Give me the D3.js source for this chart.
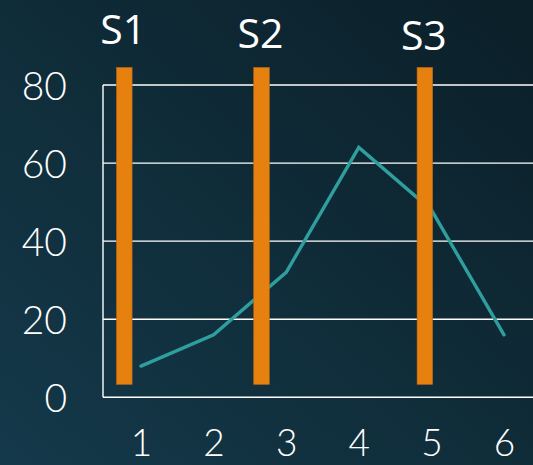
<!DOCTYPE html>
<html>
<head>
<meta charset="utf-8">
<script src="https://cdn.jsdelivr.net/npm/d3@7"></script>
<style>
  html, body { margin: 0; padding: 0; background: #0f2a35; }
  svg { display: block; }
</style>
</head>
<body>
<script>
// Series: one line over six steps, plus three marker bands S1–S3
const steps = [1, 2, 3, 4, 5, 6];
const values = [8, 16, 32, 64, 48, 16];
const yTicks = [0, 20, 40, 60, 80];
const markerNames = ["S1", "S2", "S3"];
const markerPositions = [0.77, 2.66, 4.91];
const markerRange = [3.3, 84.5];

const W = 533, H = 465;
const svg = d3.select("body").append("svg").attr("width", W).attr("height", H);

// diagonal background gradient
const defs = svg.append("defs");
const grad = defs.append("linearGradient").attr("id", "bg")
  .attr("x1", "0%").attr("y1", "100%").attr("x2", "100%").attr("y2", "0%");
grad.append("stop").attr("offset", "0%").attr("stop-color", "#14394a");
grad.append("stop").attr("offset", "100%").attr("stop-color", "#0b1f28");
svg.append("rect").attr("width", W).attr("height", H).attr("fill", "url(#bg)");

const plotLeft = 103, plotTop = 85, plotBottom = 397.3;
const x = d3.scaleLinear().domain([0.5, 6.5]).range([104.7, 540.3]);
const y = d3.scaleLinear().domain([0, 80]).range([plotBottom, plotTop]);

const numFont = "Lato, 'Open Sans', sans-serif";

// horizontal gridlines (top one and baseline close the frame)
svg.append("g").selectAll("line").data(yTicks).join("line")
  .attr("x1", plotLeft).attr("x2", W + 5)
  .attr("y1", d => y(d)).attr("y2", d => y(d))
  .attr("stroke", "#ffffff").attr("stroke-width", 1.4);
svg.append("line")
  .attr("x1", plotLeft).attr("x2", plotLeft)
  .attr("y1", y(80)).attr("y2", y(0))
  .attr("stroke", "#ffffff").attr("stroke-width", 1.4);

// y axis labels
const yAxis = d3.axisLeft(y).tickValues(yTicks).tickFormat(d3.format("d"))
  .tickSize(0).tickPadding(0);
const gy = svg.append("g").attr("transform", "translate(67,0)").call(yAxis);
gy.select(".domain").remove();
gy.selectAll("text")
  .attr("fill", "#ffffff").attr("font-family", numFont).attr("font-weight", 300)
  .attr("font-size", 39).attr("dy", "0.36em");

// x axis labels (baseline placed directly)
const xAxis = d3.axisBottom(x).tickValues(steps).tickFormat(d3.format("d"))
  .tickSize(0).tickPadding(0);
const gx = svg.append("g").attr("transform", "translate(0,456)").call(xAxis);
gx.select(".domain").remove();
gx.selectAll("text")
  .attr("y", 0).attr("dy", 0)
  .attr("fill", "#ffffff").attr("font-family", numFont).attr("font-weight", 300)
  .attr("font-size", 37);

// data line
const line = d3.line().x((d, i) => x(steps[i])).y(d => y(d));
svg.append("path").datum(values)
  .attr("d", line)
  .attr("fill", "none").attr("stroke", "#2f9e9f").attr("stroke-width", 3.4)
  .attr("stroke-linecap", "round").attr("stroke-linejoin", "miter");

// marker bars
const barW = 15.6;
svg.append("g").selectAll("rect").data(markerPositions).join("rect")
  .attr("x", d => x(d) - barW / 2).attr("width", barW)
  .attr("y", y(markerRange[1])).attr("height", y(markerRange[0]) - y(markerRange[1]))
  .attr("fill", "#e6800f").attr("stroke", "#b8661a").attr("stroke-width", 0.6);

// marker labels
const labelBase = [44, 48, 50];
svg.append("g").selectAll("text").data(markerNames).join("text")
  .attr("x", (d, i) => x(markerPositions[i]) - 1)
  .attr("y", (d, i) => labelBase[i])
  .attr("text-anchor", "middle")
  .attr("fill", "#ffffff").attr("font-family", "'Open Sans', sans-serif")
  .attr("font-size", 41)
  .text(d => d);
</script>
</body>
</html>
